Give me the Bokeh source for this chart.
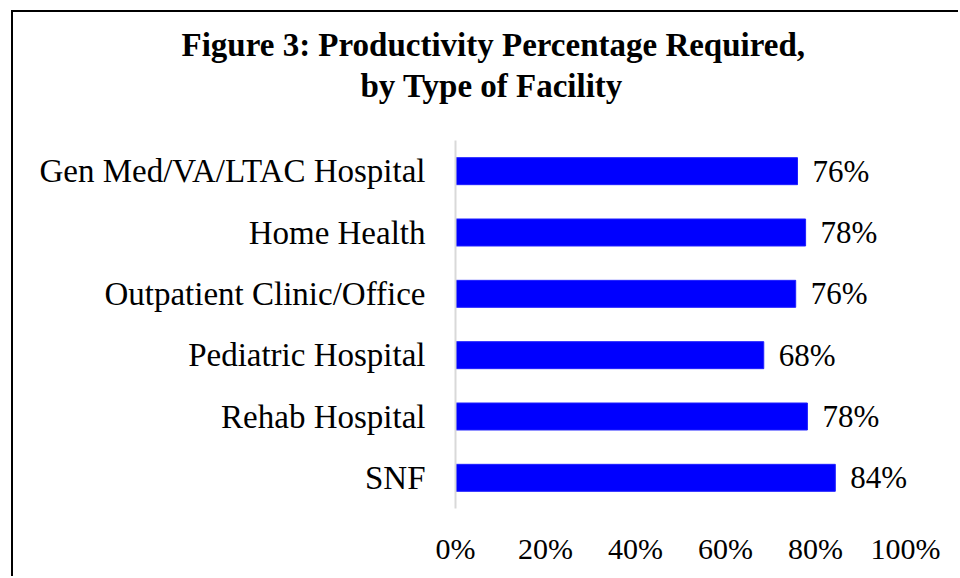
from bokeh.plotting import figure
from bokeh.models import ColumnDataSource, Range1d, FixedTicker, NumeralTickFormatter, Title
from bokeh.core.properties import value
from bokeh.embed import file_html
from bokeh.resources import INLINE

categories = ["Gen Med/VA/LTAC Hospital", "Home Health", "Outpatient Clinic/Office",
              "Pediatric Hospital", "Rehab Hospital", "SNF"]
values = [0.760, 0.778, 0.756, 0.685, 0.782, 0.844]
labels = ["76%", "78%", "76%", "68%", "78%", "84%"]
x_ticks = [0, 0.2, 0.4, 0.6, 0.8, 1.0]
title_lines = ["Figure 3: Productivity Percentage Required,", "by Type of Facility"]

FONT = "Liberation Serif"

src = ColumnDataSource(dict(cat=categories, val=values, lab=labels))

W, H = 947, 566
p = figure(width=W, height=H, output_backend="svg", toolbar_location=None,
           y_range=list(reversed(categories)), x_range=Range1d(0, 1.1),
           min_border_left=442, min_border_right=10, min_border_top=128, min_border_bottom=70)
p.styles = {"border-left": "2px solid #000", "border-top": "2px solid #000",
            "margin-left": "11px", "margin-top": "10px"}
p.outline_line_color = None
p.background_fill_color = "white"
p.border_fill_color = "white"
p.grid.visible = False
p.y_range.range_padding = 0

p.hbar(y="cat", right="val", left=0, height=0.44, source=src,
       fill_color="#0000ff", line_color="#1f1fff", line_width=1)
p.text(x="val", y="cat", text="lab", source=src, x_offset=15,
       text_baseline="middle", text_align="left",
       text_font=value(FONT), text_font_size="31px", text_color="#000000")

xa = p.xaxis[0]
xa.ticker = FixedTicker(ticks=x_ticks)
xa.formatter = NumeralTickFormatter(format="0%")
xa.axis_line_color = None
xa.major_tick_line_color = None
xa.minor_tick_line_color = None
xa.major_label_text_font = FONT
xa.major_label_text_font_size = "30px"
xa.major_label_text_color = "#000000"
xa.major_label_standoff = 17

ya = p.yaxis[0]
ya.axis_line_color = "#d9d9d9"
ya.axis_line_width = 2
ya.major_tick_line_color = None
ya.minor_tick_line_color = None
ya.major_label_text_font = FONT
ya.major_label_text_font_size = "33px"
ya.major_label_text_color = "#000000"
ya.major_label_standoff = 24

# spacer between the title block and the frame (added first: closest to frame)
p.add_layout(Title(text=" ", align="left", standoff=0,
                   text_font=FONT, text_font_size="31px"), "above")

# titles: added from the frame outward (second line first)
title_offsets = [-274, -95]
title_standoffs = [6, 0]
for t, off, so in reversed(list(zip(title_lines, title_offsets, title_standoffs))):
    p.add_layout(Title(text=t, align="left", offset=off, standoff=so,
                       text_font=FONT, text_font_size="33px", text_font_style="bold",
                       text_color="#000000"), "above")

open("out.html", "w").write(file_html(p, INLINE))
